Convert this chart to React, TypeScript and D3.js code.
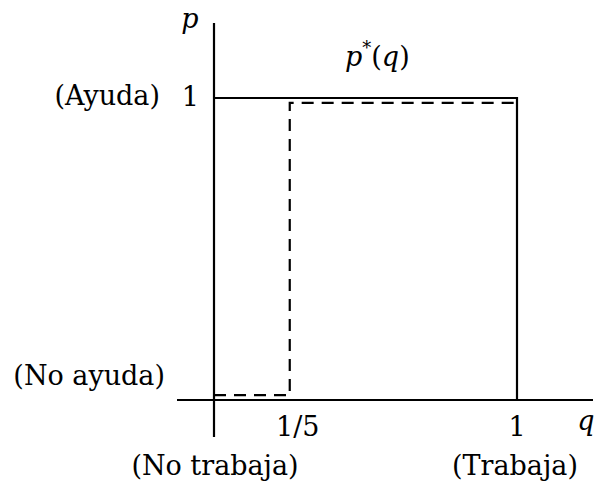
import React from "react";
import * as d3 from "d3";

// q-axis ticks (value, label)
const qTickValues = [0.25, 1];
const qTickLabels = ["1/5", "1"];
// p-axis ticks
const pTickValues = [1];
const pTickLabels = ["1"];
// solid best-response p*(q)
const solidQ = [0, 1, 1];
const solidP = [1, 1, 0];
// dashed response
const dashedQ = [0, 0.25, 0.25, 1];
const dashedP = [0.016, 0.016, 0.984, 0.984];
const sideLabelsP = ["(Ayuda)", "(No ayuda)"];
const sideLabelsQ = ["(No trabaja)", "(Trabaja)"];

const W = 600, H = 485;

export default function App() {
  const x = d3.scaleLinear().domain([0, 1]).range([214, 517]);
  const y = d3.scaleLinear().domain([0, 1]).range([400, 98]);
  const line = d3.line<[number, number]>().x(d => x(d[0])).y(d => y(d[1]));
  const solid = solidQ.map((q, i) => [q, solidP[i]] as [number, number]);
  const dashed = dashedQ.map((q, i) => [q, dashedP[i]] as [number, number]);
  const tstyle: React.CSSProperties = { fontFamily: "\"DejaVu Serif\", serif", fontSize: 27 };
  return (
    <svg width={W} height={H} style={{ position: "absolute", left: 0, top: 0 }}>
      <rect width={W} height={H} fill="#fff" />
      <line x1={x(0)} x2={x(0)} y1={23} y2={437} stroke="#000" strokeWidth={2.2} />
      <line x1={177} x2={593} y1={y(0)} y2={y(0)} stroke="#000" strokeWidth={2.2} />
      <path d={line(solid) || ""} fill="none" stroke="#000" strokeWidth={2.2} />
      <path d={line(dashed) || ""} fill="none" stroke="#000" strokeWidth={2.2} strokeDasharray="12,8" />
      <text x={190} y={28} style={{ ...tstyle, fontStyle: "italic" }} textAnchor="middle">p</text>
      <text x={586} y={430} style={{ ...tstyle, fontStyle: "italic" }} textAnchor="middle">q</text>
      <text x={345} y={66} style={tstyle}>
        <tspan fontStyle="italic">p</tspan>
        <tspan fontSize={18} dy={-12}>*</tspan>
        <tspan dy={12}>(</tspan>
        <tspan fontStyle="italic">q</tspan>
        <tspan>)</tspan>
      </text>
      {pTickValues.map((v, i) => (
        <text key={i} x={199} y={y(v) + 8} style={tstyle} textAnchor="end">{pTickLabels[i]}</text>
      ))}
      {qTickValues.map((v, i) => (
        <text key={i} x={x(v) + (i === 0 ? 8 : 0)} y={436} style={tstyle} textAnchor="middle">{qTickLabels[i]}</text>
      ))}
      <text x={160} y={105} style={tstyle} textAnchor="end">{sideLabelsP[0]}</text>
      <text x={165} y={385} style={tstyle} textAnchor="end">{sideLabelsP[1]}</text>
      <text x={215} y={475} style={tstyle} textAnchor="middle">{sideLabelsQ[0]}</text>
      <text x={515} y={475} style={tstyle} textAnchor="middle">{sideLabelsQ[1]}</text>
    </svg>
  );
}
